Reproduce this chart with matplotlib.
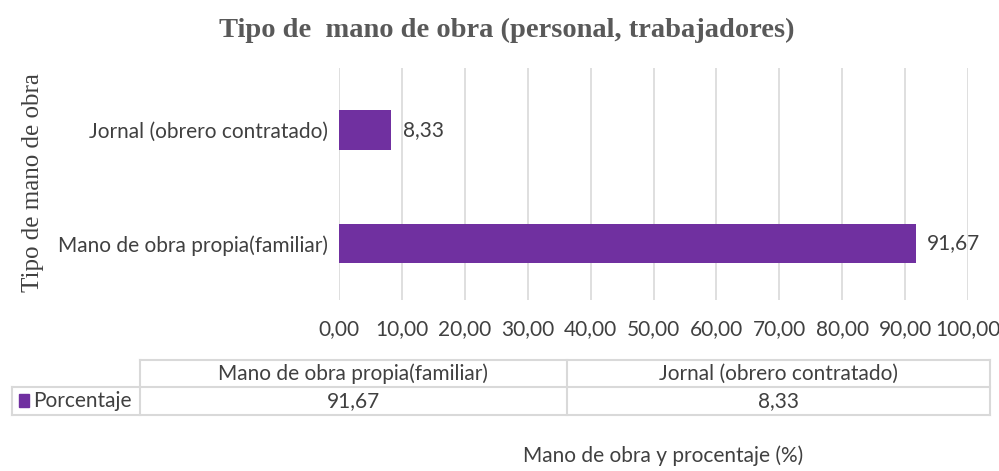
import matplotlib.pyplot as plt
from matplotlib.lines import Line2D
from matplotlib.patches import Rectangle

categorias = ["Mano de obra propia(familiar)", "Jornal (obrero contratado)"]
porcentaje = [91.67, 8.33]
serie = "Porcentaje"
titulo = "Tipo de  mano de obra (personal, trabajadores)"
eje_y = "Tipo de mano de obra"
eje_x = "Mano de obra y procentaje (%)"

morado = "#7030A0"
gris_txt = "#404040"
gris_lin = "#D9D9D9"
fuente = ["Lato", "DejaVu Sans"]
tam = 15

def coma(v):
    return f"{v:.2f}".replace(".", ",")

W, H = 999, 471
fig = plt.figure(figsize=(W / 100, H / 100), dpi=100)

# ejes del grafico de barras (pixeles -> fraccion de figura)
x0, x1, y0, y1 = 339, 968, 68, 300
ax = fig.add_axes([x0 / W, 1 - y1 / H, (x1 - x0) / W, (y1 - y0) / H])
pos = list(range(len(categorias)))
ax.barh(pos, porcentaje, height=0.35, color=morado, zorder=3)
ax.set_ylim(-0.5, 1.55)
ax.set_xlim(0, 100)
ax.set_xticks(range(0, 101, 10))
ax.set_xticklabels([coma(v) for v in range(0, 101, 10)], fontsize=tam,
                   color=gris_txt, family=fuente)
ax.set_yticks(pos)
ax.set_yticklabels(categorias, fontsize=tam, color=gris_txt, family=fuente)
ax.tick_params(length=0, pad=8)
ax.tick_params(axis="x", pad=14)
ax.grid(axis="x", color=gris_lin, lw=1.2, zorder=0)
for s in ax.spines.values():
    s.set_visible(False)
for p, v in zip(pos, porcentaje):
    ax.text(v + 1.8, p, coma(v), va="center", ha="left", fontsize=tam,
            color=gris_txt, family=fuente)

fig.text(0.507, 1 - 30 / H, titulo, ha="center", va="center", fontsize=20.5,
         fontweight="bold", color="#595959", family="Liberation Serif")
fig.text(33 / W, 1 - 183 / H, eje_y, rotation=90, ha="center", va="center",
         fontsize=18, color=gris_txt, family="Liberation Serif")
fig.text(663 / W, 1 - 456 / H, eje_x, ha="center", va="center", fontsize=tam,
         color=gris_txt, family=fuente)

# tabla de datos bajo el grafico
cols = [12, 140, 567, 990]
filas = [360, 387, 415]

def fy(y):
    return 1 - y / H

def linea(xa, xb, ya, yb):
    fig.add_artist(Line2D([xa / W, xb / W], [fy(ya), fy(yb)], color=gris_lin,
                          lw=1.5, transform=fig.transFigure))

linea(cols[1], cols[3], filas[0], filas[0])
linea(cols[0], cols[3], filas[1], filas[1])
linea(cols[0], cols[3], filas[2], filas[2])
linea(cols[0], cols[0], filas[1], filas[2])
for c in cols[1:]:
    linea(c, c, filas[0], filas[2])

for i, cat in enumerate(categorias):
    xc = (cols[i + 1] + cols[i + 2]) / 2
    fig.text(xc / W, fy((filas[0] + filas[1]) / 2), cat, ha="center", va="center",
             fontsize=tam, color=gris_txt, family=fuente)
    fig.text(xc / W, fy((filas[1] + filas[2]) / 2), coma(porcentaje[i]),
             ha="center", va="center", fontsize=tam, color=gris_txt, family=fuente)

fig.add_artist(Rectangle((19 / W, fy(407)), 10 / W, 13 / H, color=morado,
                         transform=fig.transFigure))
fig.text(33 / W, fy((filas[1] + filas[2]) / 2), serie, ha="left", va="center",
         fontsize=tam, color=gris_txt, family=fuente)

fig.savefig("out.png", dpi=100)
